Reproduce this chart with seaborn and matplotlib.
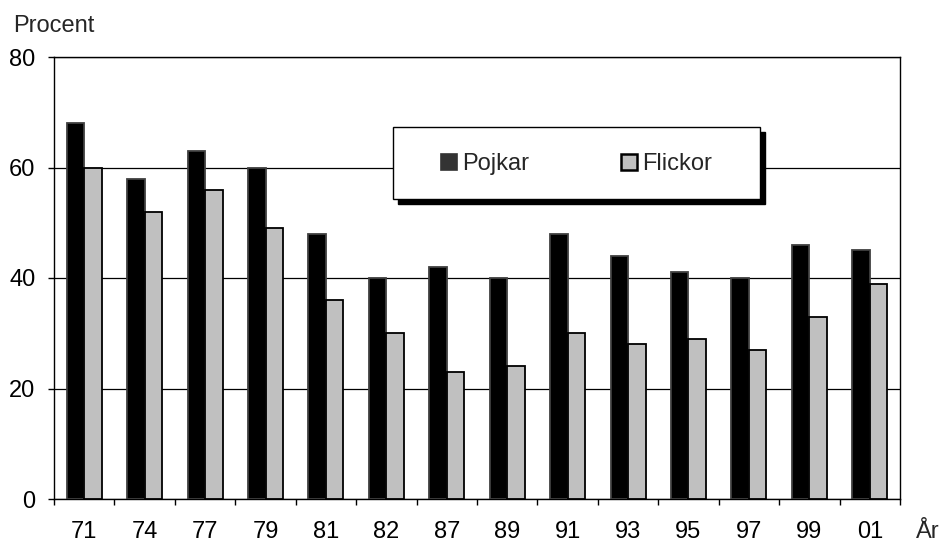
import matplotlib
matplotlib.use("Agg")
import matplotlib.pyplot as plt
import seaborn as sns
import pandas as pd
from matplotlib.patches import Rectangle, Patch
from matplotlib.ticker import FixedLocator

years = ["71", "74", "77", "79", "81", "82", "87", "89", "91", "93", "95", "97", "99", "01"]
pojkar = [68, 58, 63, 60, 48, 40, 42, 40, 48, 44, 41, 40, 46, 45]
flickor = [60, 52, 56, 49, 36, 30, 23, 24, 30, 28, 29, 27, 33, 39]
series = ["Pojkar", "Flickor"]
colors = {"Pojkar": "#000000", "Flickor": "#c0c0c0"}
edges = {"Pojkar": "#404040", "Flickor": "#000000"}

df = pd.DataFrame({
    "year": years * 2,
    "value": pojkar + flickor,
    "series": ["Pojkar"] * len(years) + ["Flickor"] * len(years),
})

sns.set_theme(style="white")
plt.rcParams["font.family"] = ["Liberation Sans", "DejaVu Sans"]
FS = 17

W, H = 941, 542
fig = plt.figure(figsize=(W / 100, H / 100), dpi=100)
L, R, T, B = 54, 900, 57, 499
ax = fig.add_axes([L / W, 1 - B / H, (R - L) / W, (B - T) / H])

sns.barplot(data=df, x="year", y="value", hue="series", hue_order=series,
            palette=colors, width=0.58, gap=0, legend=False, ax=ax, zorder=3,
            saturation=1)

for cont, s in zip(ax.containers, series):
    for p in cont:
        p.set_edgecolor(edges[s])
        p.set_linewidth(1.3)

ax.set_xlim(-0.5, len(years) - 0.5)
ax.set_ylim(0, 80)
ax.set_yticks([0, 20, 40, 60, 80])
ax.yaxis.grid(True, color="black", linewidth=0.9, zorder=0)
ax.set_axisbelow(True)
for sp in ax.spines.values():
    sp.set_visible(True)
    sp.set_color("black")
    sp.set_linewidth(1.0)

ax.set_xlabel("")
ax.set_ylabel("")
ax.tick_params(axis="y", which="major", length=4.5, width=1, direction="out",
               left=True, labelsize=FS, pad=9, colors="black")
ax.tick_params(axis="x", which="major", length=0, labelsize=FS, pad=16, colors="black")
ax.xaxis.set_minor_locator(FixedLocator([i - 0.5 for i in range(len(years) + 1)]))
ax.tick_params(axis="x", which="minor", length=4.5, width=1, direction="out",
               bottom=True, color="black")

fig.text(13 / W, 1 - 32 / H, "Procent", fontsize=FS, va="baseline", ha="left")
fig.text(916 / W, 1 - 538 / H, "År", fontsize=FS, va="baseline", ha="left")

# legend box with shadow
lx0, lx1, ly0, ly1 = 393, 760, 127, 199
off = 5
fig.patches.append(Rectangle(((lx0 + off) / W, 1 - (ly1 + off) / H),
                             (lx1 - lx0) / W, (ly1 - ly0) / H,
                             transform=fig.transFigure, facecolor="black",
                             edgecolor="black", zorder=5))
fig.patches.append(Rectangle((lx0 / W, 1 - ly1 / H), (lx1 - lx0) / W, (ly1 - ly0) / H,
                             transform=fig.transFigure, facecolor="white",
                             edgecolor="black", linewidth=1.0, zorder=6))
handles = [Patch(facecolor="#333333", edgecolor="#333333", linewidth=1.2, label="Pojkar"),
           Patch(facecolor="#c0c0c0", edgecolor="black", linewidth=1.8, label="Flickor")]
leg = fig.legend(handles=handles, loc="center", bbox_to_anchor=((lx0 + lx1) / 2 / W, 1 - 164 / H),
                 ncol=2, frameon=False, fontsize=FS, handlelength=0.68, handleheight=0.68,
                 handletextpad=0.22, columnspacing=3.9)
leg.set_zorder(7)

fig.savefig("out.png", dpi=100)
